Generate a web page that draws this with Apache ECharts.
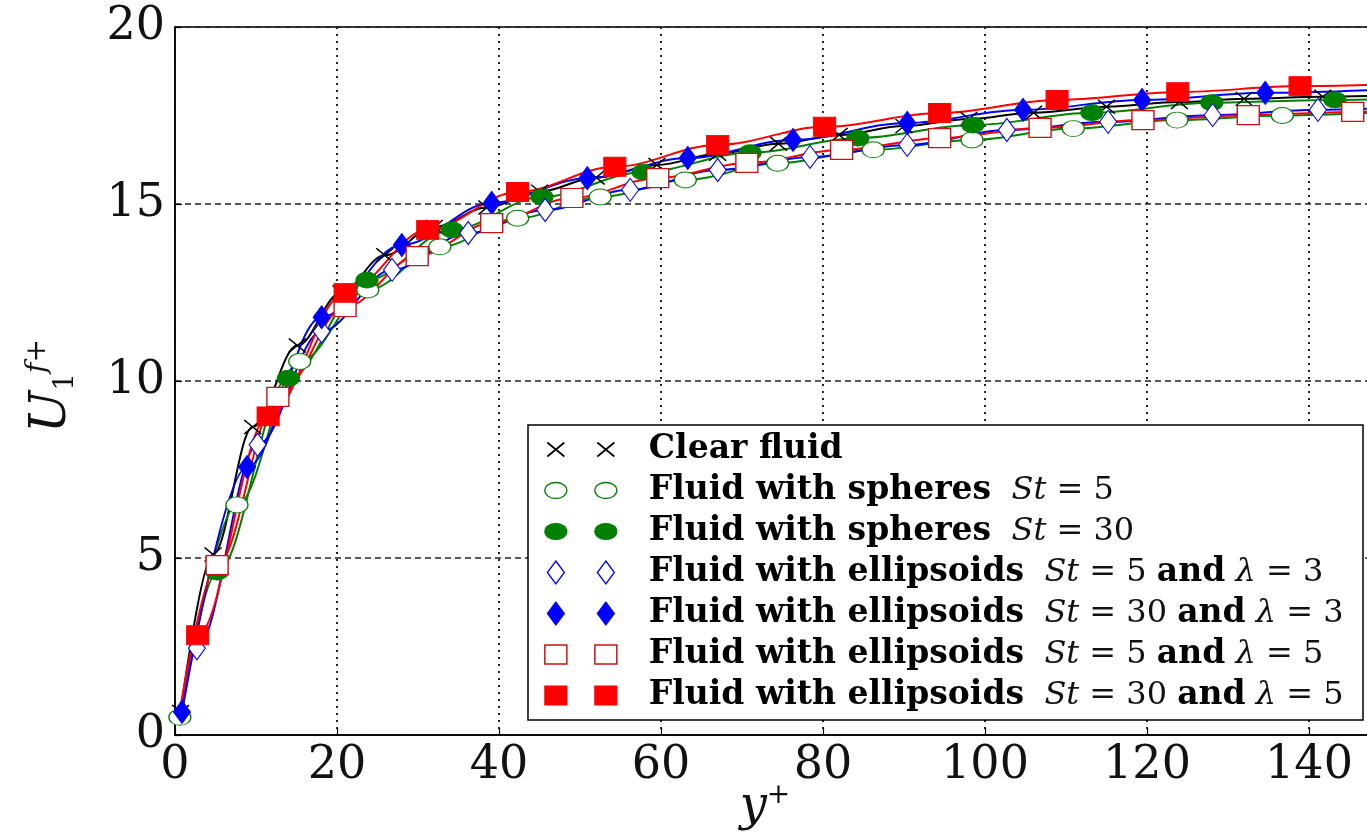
<!DOCTYPE html>
<html>
<head>
<meta charset="utf-8">
<script src="https://cdn.jsdelivr.net/npm/echarts@6/dist/echarts.min.js"></script>
<style>
  html, body { margin: 0; padding: 0; background: #fff; }
  #chart { width: 1367px; height: 832px; }
</style>
</head>
<body>
<div id="chart"></div>
<script>
// Mean streamwise fluid velocity U1f+ against wall distance y+

// Clear fluid
const clearX = [0.7, 4.7, 9.6, 15.1, 20.5, 25.9, 32, 38.5, 45, 52, 59.5, 67, 74.5, 82, 90, 98, 106, 115, 124, 132, 141.7, 150];
const clearY = [0.65, 5.1, 8.7, 11.0, 12.5, 13.55, 14.35, 14.9, 15.35, 15.75, 16.1, 16.42, 16.7, 16.95, 17.2, 17.4, 17.58, 17.75, 17.88, 17.97, 18.03, 18.07];

// Spheres, St = 5
const sph5X = [0.6, 7.65, 15.4, 23.8, 32.7, 42.3, 52.5, 63, 74.4, 86.2, 98.4, 110.9, 123.7, 136.7, 150];
const sph5Y = [0.5, 6.5, 10.55, 12.57, 13.79, 14.6, 15.2, 15.68, 16.15, 16.53, 16.81, 17.13, 17.37, 17.5, 17.6];

// Spheres, St = 30
const sph30X = [0.5, 5.2, 14.0, 23.7, 34.2, 45.3, 57.8, 71, 84.3, 98.5, 113.2, 128, 143.2, 150];
const sph30Y = [0.45, 4.6, 10.08, 12.85, 14.27, 15.2, 15.9, 16.45, 16.86, 17.23, 17.58, 17.86, 17.94, 17.97];

// Ellipsoids, St = 5, lambda = 3
const ell5l3X = [0.6, 2.7, 10.2, 18.1, 26.8, 36.2, 45.7, 56.2, 67, 78.4, 90.4, 102.7, 115.2, 128.1, 141.1, 150];
const ell5l3Y = [0.5, 2.45, 8.2, 11.4, 13.14, 14.18, 14.83, 15.4, 15.96, 16.33, 16.67, 17.09, 17.32, 17.51, 17.66, 17.72];

// Ellipsoids, St = 30, lambda = 3
const ell30l3X = [0.86, 8.9, 18.1, 28, 39.1, 50.9, 63.3, 76.3, 90.4, 104.7, 119.4, 134.6, 150];
const ell30l3Y = [0.65, 7.57, 11.8, 13.84, 15.03, 15.73, 16.3, 16.81, 17.29, 17.66, 17.94, 18.14, 18.24];

// Ellipsoids, St = 5, lambda = 5
const ell5l5X = [0.5, 5.2, 12.7, 21, 29.9, 39.1, 49, 59.6, 70.6, 82.3, 94.4, 106.8, 119.5, 132.5, 145.4, 150];
const ell5l5Y = [0.5, 4.8, 9.55, 12.09, 13.53, 14.46, 15.17, 15.73, 16.16, 16.53, 16.86, 17.15, 17.37, 17.51, 17.6, 17.63];

// Ellipsoids, St = 30, lambda = 5
const ell30l5X = [0.5, 2.8, 11.5, 21, 31.2, 42.3, 54.3, 67, 80.2, 94.4, 108.9, 123.8, 138.9, 150];
const ell30l5Y = [0.5, 2.82, 9.0, 12.49, 14.27, 15.34, 16.05, 16.67, 17.18, 17.57, 17.94, 18.16, 18.33, 18.38];

// Axis ticks
const xTicks = [0, 20, 40, 60, 80, 100, 120, 140, 160];
const yTicks = [0, 5, 10, 15, 20];

// Legend entries
const seriesNames = [
  'Clear fluid',
  'Spheres St=5',
  'Spheres St=30',
  'Ellipsoids St=5 l=3',
  'Ellipsoids St=30 l=3',
  'Ellipsoids St=5 l=5',
  'Ellipsoids St=30 l=5'
];
const legendHead = ['Clear fluid', 'Fluid with spheres', 'Fluid with spheres', 'Fluid with ellipsoids', 'Fluid with ellipsoids', 'Fluid with ellipsoids', 'Fluid with ellipsoids'];
const legendSt = [null, '5', '30', '5', '30', '5', '30'];
const legendLambda = [null, null, null, '3', '3', '5', '5'];

const GREEN = '#008000', BLUE = '#0000ff', RED = '#ff0000';

const ELLIPSE = 'path://M0,8A11,8 0 1,0 22,8A11,8 0 1,0 0,8Z';
const CROSS = 'path://M0,0L10,10M10,0L0,10';

// marker look for each series (in order)
const styles = [
  { line: '#000000', symbol: CROSS, size: [17, 14], fill: 'rgba(0,0,0,0)', edge: '#000000', edgeW: 1.5, hideFirst: false,
    icon: 'path://M0,0M99,24M2.5,5L19.5,19M19.5,5L2.5,19M52.5,5L69.5,19M69.5,5L52.5,19' },
  { line: GREEN, symbol: ELLIPSE, size: [22, 16], fill: '#ffffff', edge: GREEN, edgeW: 1.1, hideFirst: false,
    icon: 'path://M0,0M99,24M0,12A11,8 0 1,0 22,12A11,8 0 1,0 0,12ZM50,12A11,8 0 1,0 72,12A11,8 0 1,0 50,12Z' },
  { line: GREEN, symbol: ELLIPSE, size: [22, 16], fill: GREEN, edge: GREEN, edgeW: 1, hideFirst: true,
    icon: 'path://M0,0M99,24M0,12A11,8 0 1,0 22,12A11,8 0 1,0 0,12ZM50,12A11,8 0 1,0 72,12A11,8 0 1,0 50,12Z' },
  { line: BLUE, symbol: 'diamond', size: [17, 23], fill: '#ffffff', edge: BLUE, edgeW: 1.1, hideFirst: true,
    icon: 'path://M0,0M99,24M11,0.5L19.5,12L11,23.5L2.5,12ZM61,0.5L69.5,12L61,23.5L52.5,12Z' },
  { line: BLUE, symbol: 'diamond', size: [17, 23], fill: BLUE, edge: BLUE, edgeW: 1, hideFirst: false,
    icon: 'path://M0,0M99,24M11,0.5L19.5,12L11,23.5L2.5,12ZM61,0.5L69.5,12L61,23.5L52.5,12Z' },
  { line: RED, symbol: 'rect', size: [22, 19], fill: '#ffffff', edge: '#d01010', edgeW: 1.3, hideFirst: true,
    icon: 'path://M0,0M99,24M0,2.5L22,2.5L22,21.5L0,21.5ZM50,2.5L72,2.5L72,21.5L50,21.5Z' },
  { line: RED, symbol: 'rect', size: [22, 19], fill: RED, edge: RED, edgeW: 1, hideFirst: true,
    icon: 'path://M0,0M99,24M0,2.5L22,2.5L22,21.5L0,21.5ZM50,2.5L72,2.5L72,21.5L50,21.5Z' }
];

const xs = [clearX, sph5X, sph30X, ell5l3X, ell30l3X, ell5l5X, ell30l5X];
const ys = [clearY, sph5Y, sph30Y, ell5l3Y, ell30l3Y, ell5l5Y, ell30l5Y];

const series = seriesNames.map((name, k) => {
  const st = styles[k];
  const data = xs[k].map((x, i) => {
    const item = { value: [x, ys[k][i]] };
    if (i === 0 && st.hideFirst) item.symbol = 'none';
    return item;
  });
  return {
    name: name,
    type: 'line',
    data: data,
    smooth: 0.35,
    smoothMonotone: 'x',
    symbol: st.symbol,
    symbolSize: st.size,
    symbolKeepAspect: false,
    showSymbol: true,
    lineStyle: { color: st.line, width: 2 },
    itemStyle: { color: st.fill, borderColor: st.edge, borderWidth: st.edgeW, opacity: 1 },
    emphasis: { disabled: true },
    z: 2
  };
});

const legendData = seriesNames.map((name, k) => ({
  name: name,
  icon: styles[k].icon,
  itemStyle: {
    color: styles[k].fill,
    borderColor: styles[k].edge,
    borderWidth: styles[k].edgeW + 0.2
  }
}));

function legendLabel(name) {
  const k = seriesNames.indexOf(name);
  let s = '{b|' + legendHead[k] + '}';
  if (legendSt[k]) s += '{m|  }{i|St}{m| = ' + legendSt[k] + '}';
  if (legendLambda[k]) s += '{m| }{b|and}{m| }{i|λ}{m| = ' + legendLambda[k] + '}';
  return s;
}

const chart = echarts.init(document.getElementById('chart'), null, { renderer: 'canvas' });

chart.setOption({
  animation: false,
  backgroundColor: '#ffffff',
  grid: {
    left: 175, top: 27, width: 1296, height: 708,
    containLabel: false,
    outerBoundsMode: 'none',
    show: true, borderColor: '#000', borderWidth: 1.5, backgroundColor: 'transparent'
  },
  xAxis: {
    type: 'value',
    min: xTicks[0], max: xTicks[xTicks.length - 1], interval: xTicks[1] - xTicks[0],
    axisLine: { show: true, lineStyle: { color: '#000', width: 1.5 } },
    axisTick: { show: true, inside: true, length: 7, lineStyle: { color: '#000', width: 1.2 } },
    axisLabel: { color: '#111', fontFamily: 'DejaVu Serif', fontSize: 46, margin: 8 },
    splitLine: { show: true, lineStyle: { color: '#222', type: [2, 5], width: 2 } }
  },
  yAxis: {
    type: 'value',
    min: yTicks[0], max: yTicks[yTicks.length - 1], interval: yTicks[1] - yTicks[0],
    axisLine: { show: true, lineStyle: { color: '#000', width: 1.5 } },
    axisTick: { show: true, inside: true, length: 7, lineStyle: { color: '#000', width: 1.2 } },
    axisLabel: { color: '#111', fontFamily: 'DejaVu Serif', fontSize: 46, margin: 10 },
    splitLine: { show: true, lineStyle: { color: '#222', type: [6, 4], width: 1.5 } }
  },
  legend: {
    orient: 'vertical',
    left: 544, top: 433,
    padding: 0,
    itemWidth: 99, itemHeight: 24, itemGap: 8,
    symbolKeepAspect: true,
    selectedMode: false,
    data: legendData,
    formatter: legendLabel,
    textStyle: {
      color: '#000',
      rich: {
        b: { fontFamily: 'DejaVu Serif', fontWeight: 'bold', fontSize: 33, lineHeight: 24, color: '#000' },
        i: { fontFamily: 'DejaVu Serif', fontStyle: 'italic', fontSize: 32, lineHeight: 24, color: '#111' },
        m: { fontFamily: 'DejaVu Serif', fontSize: 32, lineHeight: 24, color: '#111' }
      }
    },
    z: 4
  },
  graphic: [
    {
      type: 'rect', z: 3,
      shape: { x: 528, y: 425, width: 835, height: 295 },
      style: { fill: '#ffffff', stroke: '#000', lineWidth: 1.5 }
    },
    {
      type: 'text', z: 5,
      x: 52, y: 386, rotation: Math.PI / 2,
      style: {
        text: '{u|U}{s|1}{p|f+}',
        align: 'center', verticalAlign: 'middle',
        rich: {
          u: { fontFamily: 'DejaVu Serif', fontStyle: 'italic', fontSize: 50, lineHeight: 56, fill: '#111' },
          s: { fontFamily: 'DejaVu Serif', fontSize: 28, verticalAlign: 'bottom', lineHeight: 56, fill: '#111' },
          p: { fontFamily: 'DejaVu Serif', fontStyle: 'italic', fontSize: 28, verticalAlign: 'top', lineHeight: 56, fill: '#111' }
        }
      }
    },
    {
      type: 'text', z: 5,
      x: 765, y: 808,
      style: {
        text: '{y|y}{p|+}',
        align: 'center', verticalAlign: 'middle',
        rich: {
          y: { fontFamily: 'DejaVu Serif', fontStyle: 'italic', fontSize: 48, lineHeight: 52, fill: '#111' },
          p: { fontFamily: 'DejaVu Serif', fontSize: 28, verticalAlign: 'top', lineHeight: 52, fill: '#111' }
        }
      }
    }
  ],
  series: series
});
</script>
</body>
</html>
